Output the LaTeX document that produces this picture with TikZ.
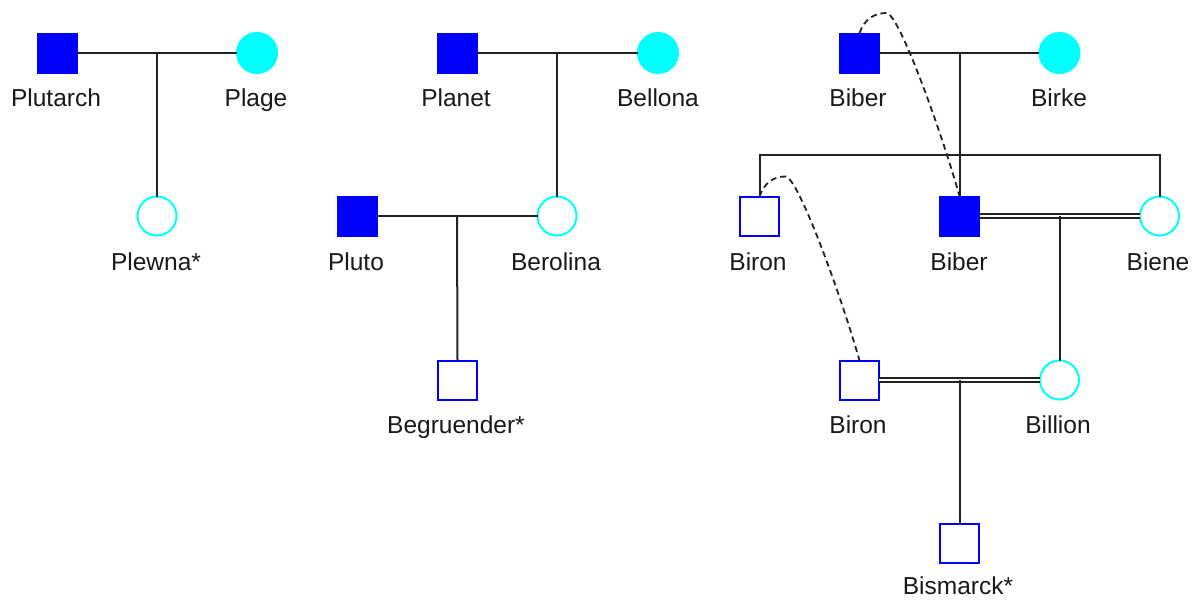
\documentclass[tikz,border=0pt]{standalone}
\usepackage{fontspec}
\setmainfont{Liberation Sans}
\usetikzlibrary{calc}
\definecolor{mblue}{HTML}{0000FF}
\definecolor{fcyan}{HTML}{00FFFF}
\definecolor{edge}{HTML}{222222}
\tikzset{
  male/.style={rectangle, minimum size=40pt, inner sep=0pt, outer sep=0pt, draw=mblue, fill=mblue, line width=1pt},
  maleopen/.style={rectangle, minimum size=39pt, inner sep=0pt, outer sep=0pt, draw=mblue, line width=2pt},
  female/.style={circle, minimum size=41pt, inner sep=0pt, outer sep=0pt, draw=fcyan, fill=fcyan, line width=1pt},
  femaleopen/.style={circle, minimum size=39pt, inner sep=0pt, outer sep=0pt, draw=fcyan, line width=2pt},
  lbl/.style={anchor=base, inner sep=0pt, font=\fontsize{24.5}{28}\selectfont, text=black!90},
  link/.style={draw=edge, line width=2pt},
  consang/.style={draw=edge, line width=1.8pt, double=white, double distance=2pt},
  twin/.style={draw=edge, line width=1.8pt, dash pattern=on 6pt off 4pt},
}
\begin{document}
\begin{tikzpicture}[x=1pt, y=-1pt]
\useasboundingbox (0,0) rectangle (1197,600);

% ---- Plutarch family ----
\node[male] (plutarch) at (57,53) {};
\node[female] (plage) at (257,53) {};
\node[femaleopen] (plewna) at (157,216) {};
\node[lbl] (plutarchL) at (56,106) {Plutarch};
\node[lbl] (plageL) at (256,106) {Plage};
\node[lbl] (plewnaL) at (156,270) {Plewna*};
\coordinate (m1) at (157,53);
\draw[link] (plutarch.east) -- (plage.west);
\draw[link] (m1) -- (plewna.north);

% ---- Planet family ----
\node[male] (planet) at (457,53) {};
\node[female] (bellona) at (658,53) {};
\node[femaleopen] (berolina) at (557,216) {};
\node[male] (pluto) at (357,216) {};
\node[maleopen] (begruender) at (457.5,380) {};
\node[lbl] (planetL) at (456,106) {Planet};
\node[lbl] (bellonaL) at (658,106) {Bellona};
\node[lbl] (plutoL) at (356,270) {Pluto};
\node[lbl] (berolinaL) at (556,270) {Berolina};
\node[lbl] (begruenderL) at (456,433) {Begruender*};
\coordinate (m2) at (557,53);
\coordinate (m3) at (457,216);
\draw[link] (planet.east) -- (bellona.west);
\draw[link] (m2) -- (berolina.north);
\draw[link] (pluto.east) -- (berolina.west);
\draw[link] (m3) -- (begruender.north);

% ---- Biber family ----
\node[male] (biberA) at (859.5,53) {};
\node[female] (birke) at (1059.5,53) {};
\node[maleopen] (bironA) at (759.5,216) {};
\node[male] (biberB) at (959.5,216) {};
\node[femaleopen] (biene) at (1159.5,216) {};
\node[maleopen] (bironB) at (859.5,380) {};
\node[femaleopen] (billion) at (1059.5,380) {};
\node[maleopen] (bismarck) at (959.5,543) {};
\node[lbl] (biberAL) at (858,106) {Biber};
\node[lbl] (birkeL) at (1059,106) {Birke};
\node[lbl] (bironAL) at (758,270) {Biron};
\node[lbl] (biberBL) at (959,270) {Biber};
\node[lbl] (bieneL) at (1158,270) {Biene};
\node[lbl] (bironBL) at (858,433) {Biron};
\node[lbl] (billionL) at (1058,433) {Billion};
\node[lbl] (bismarckL) at (958,594) {Bismarck*};

\coordinate (m4) at (959.5,53);
\coordinate (sib) at (959.5,155);
\coordinate (sibL) at (759.5,155);
\coordinate (sibR) at (1159.5,155);
\coordinate (m5) at (1059.5,216);
\coordinate (m6) at (959.5,380);

\draw[link] (biberA.east) -- (birke.west);
\draw[link] (m4) -- (sib);
\draw[link] (bironA.north) |- (sibL) -- (sibR) -- (biene.north);
\draw[link] (sib) -- (biberB.north);
\draw[consang] (biberB.east) -- (biene.west);
\draw[link] (m5) -- (billion.north);
\draw[consang] (bironB.east) -- (billion.west);
\draw[link] (m6) -- (bismarck.north);

% dashed links joining the two appearances of the same person
\draw[twin] (biberA.north) .. controls +(5,-14) and +(-12,0) .. ++(27,-20) coordinate (pk1)
  .. controls +(12,0) and ($(biberB.north)+(-20,-70)$) .. (biberB.north);
\draw[twin] (bironA.north) .. controls +(5,-14) and +(-12,0) .. ++(26,-20) coordinate (pk2)
  .. controls +(12,0) and ($(bironB.north)+(-20,-70)$) .. (bironB.north);
\end{tikzpicture}
\end{document}
